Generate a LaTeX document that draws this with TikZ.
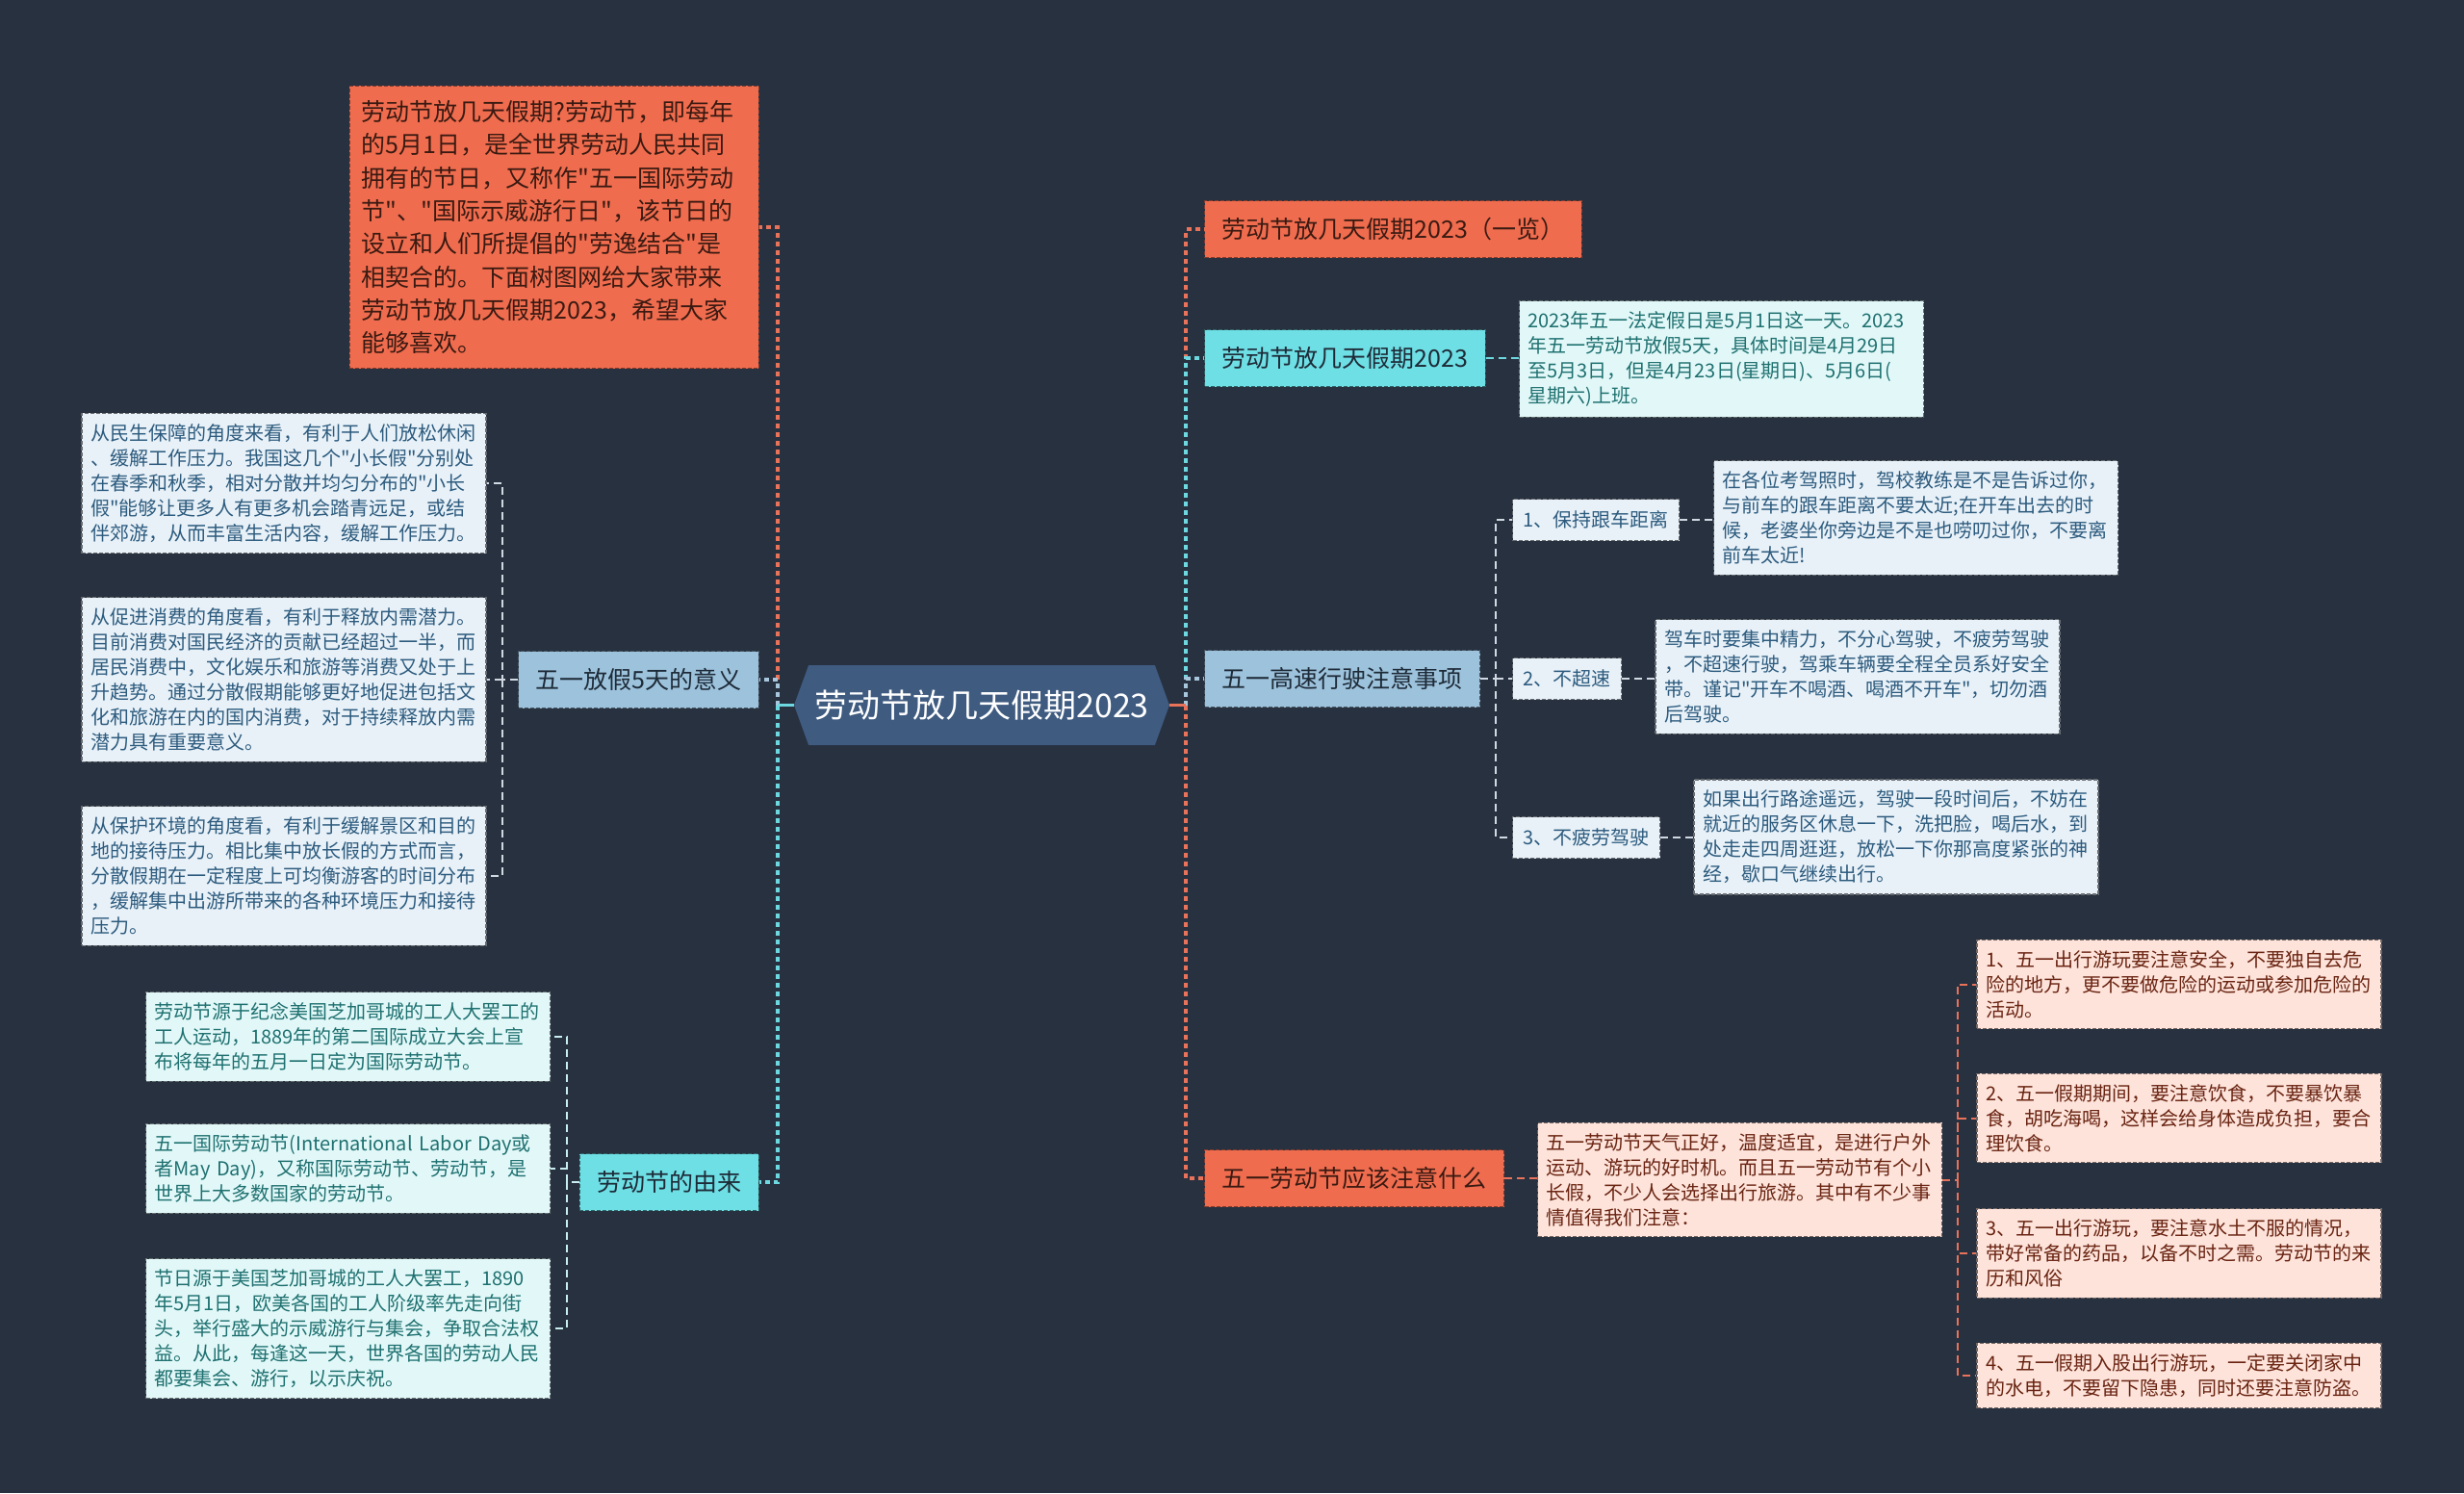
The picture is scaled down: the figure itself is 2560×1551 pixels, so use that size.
\documentclass[tikz,border=0pt]{standalone}
\usepackage{fontspec}
\setmainfont{Noto Sans CJK SC}[Ligatures=TeXOff]
\usetikzlibrary{shapes.symbols}

\definecolor{bgdark}{HTML}{283140}
\definecolor{rootblue}{HTML}{3F5B80}
\definecolor{topicorange}{HTML}{F06C4E}
\definecolor{topiccyan}{HTML}{6EDFE5}
\definecolor{topicblue}{HTML}{9DC2DC}
\definecolor{leafblue}{HTML}{E8F1F8}
\definecolor{leafcyan}{HTML}{E2F8F8}
\definecolor{leafpink}{HTML}{FDE3DA}
\definecolor{inkblue}{HTML}{2D5B7E}
\definecolor{inkteal}{HTML}{1F7070}
\definecolor{inkbrown}{HTML}{6A2412}
\definecolor{inkred}{HTML}{3A1A12}
\definecolor{inkdark}{HTML}{1E2B38}
\definecolor{lineorange}{HTML}{E8735A}
\definecolor{linecyan}{HTML}{6ED8E0}
\definecolor{lineblue}{HTML}{A8C6DC}
\definecolor{twiggray}{HTML}{D0D9E2}
\definecolor{twigcyan}{HTML}{C8EEF0}

\tikzset{
  boxbase/.style={rectangle, draw, dash pattern=on 4pt off 2pt, line width=1.2pt},
  topic/.style={boxbase, minimum height=59pt, inner xsep=18pt, inner ysep=0pt,
    font=\fontsize{25}{30}\selectfont},
  orangetopic/.style={topic, fill=topicorange, draw=topicorange!55!black, text=inkred},
  cyantopic/.style={topic, fill=topiccyan, draw=topiccyan!45!black, text=inkdark},
  bluetopic/.style={topic, fill=topicblue, draw=topicblue!45!black, text=inkdark},
  leaf/.style={boxbase, text width=402pt, inner xsep=9pt, inner ysep=11pt, align=left,
    font=\fontsize{20}{26}\selectfont},
  blueleaf/.style={leaf, fill=leafblue, draw=leafblue!45!black, text=inkblue},
  cyanleaf/.style={leaf, fill=leafcyan, draw=leafcyan!45!black, text=inkteal},
  pinkleaf/.style={leaf, fill=leafpink, draw=leafpink!45!black, text=inkbrown},
  tag/.style={boxbase, fill=leafblue, draw=leafblue!45!black, text=inkblue,
    minimum height=43pt, inner xsep=11pt, inner ysep=0pt, font=\fontsize{20}{26}\selectfont},
  trunk/.style={line width=3.5pt, dash pattern=on 5pt off 4pt},
  twig/.style={line width=2pt, dash pattern=on 8pt off 5pt},
}

\begin{document}
\begin{tikzpicture}[x=1pt, y=-1pt]
\useasboundingbox (0,0) rectangle (2560,1551);
\fill[bgdark] (0,0) rectangle (2560,1551);

% root
\node[signal, signal to=west and east, signal pointer angle=140, fill=rootblue, text=white,
  minimum width=390pt, minimum height=83pt, inner sep=0pt, font=\fontsize{34}{40}\selectfont]
  (root) at (1020,732.5) {劳动节放几天假期2023};

% left topics
\node[orangetopic, anchor=east, text width=400pt, inner xsep=12.5pt, inner ysep=15pt, align=left,
  font=\fontsize{25}{34.3}\selectfont] (intro) at (789,236)
  {劳动节放几天假期?劳动节，即每年\\的5月1日，是全世界劳动人民共同\\拥有的节日，又称作"五一国际劳动\\节"、"国际示威游行日"，该节日的\\设立和人们所提倡的"劳逸结合"是\\相契合的。下面树图网给大家带来\\劳动节放几天假期2023，希望大家\\能够喜欢。};
\node[bluetopic, anchor=east] (meaning) at (789,706) {五一放假5天的意义};
\node[cyantopic, anchor=east] (origin) at (789,1228) {劳动节的由来};

% right topics
\node[orangetopic, anchor=west] (list) at (1251,238) {劳动节放几天假期2023（一览）};
\node[cyantopic, anchor=west] (days) at (1251,372) {劳动节放几天假期2023};
\node[bluetopic, anchor=west] (drive) at (1251,705) {五一高速行驶注意事项};
\node[orangetopic, anchor=west] (care) at (1251,1224) {五一劳动节应该注意什么};

% meaning leaves
\node[blueleaf] (meanA) at (295,502)
  {从民生保障的角度来看，有利于人们放松休闲\\、缓解工作压力。我国这几个"小长假"分别处\\在春季和秋季，相对分散并均匀分布的"小长\\假"能够让更多人有更多机会踏青远足，或结\\伴郊游，从而丰富生活内容，缓解工作压力。};
\node[blueleaf] (meanB) at (295,706)
  {从促进消费的角度看，有利于释放内需潜力。\\目前消费对国民经济的贡献已经超过一半，而\\居民消费中，文化娱乐和旅游等消费又处于上\\升趋势。通过分散假期能够更好地促进包括文\\化和旅游在内的国内消费，对于持续释放内需\\潜力具有重要意义。};
\node[blueleaf] (meanC) at (295,910)
  {从保护环境的角度看，有利于缓解景区和目的\\地的接待压力。相比集中放长假的方式而言，\\分散假期在一定程度上可均衡游客的时间分布\\，缓解集中出游所带来的各种环境压力和接待\\压力。};

% origin leaves
\node[cyanleaf] (origA) at (361.5,1077)
  {劳动节源于纪念美国芝加哥城的工人大罢工的\\工人运动，1889年的第二国际成立大会上宣\\布将每年的五月一日定为国际劳动节。};
\node[cyanleaf] (origB) at (361.5,1214)
  {五一国际劳动节(International~Labor~Day或\\者May~Day)，又称国际劳动节、劳动节，是\\世界上大多数国家的劳动节。};
\node[cyanleaf] (origC) at (361.5,1380)
  {节日源于美国芝加哥城的工人大罢工，1890\\年5月1日，欧美各国的工人阶级率先走向街\\头，举行盛大的示威游行与集会，争取合法权\\益。从此，每逢这一天，世界各国的劳动人民\\都要集会、游行，以示庆祝。};

% days leaf
\node[cyanleaf] (daysA) at (1788.5,373)
  {2023年五一法定假日是5月1日这一天。2023\\年五一劳动节放假5天，具体时间是4月29日\\至5月3日，但是4月23日(星期日)、5月6日(\\星期六)上班。};

% driving tags and leaves
\node[tag, anchor=west] (tagA) at (1571,540) {1、保持跟车距离};
\node[tag, anchor=west] (tagB) at (1571,705) {2、不超速};
\node[tag, anchor=west] (tagC) at (1571,870) {3、不疲劳驾驶};
\node[blueleaf] (tipA) at (1990.5,538)
  {在各位考驾照时，驾校教练是不是告诉过你，\\与前车的跟车距离不要太近;在开车出去的时\\候，老婆坐你旁边是不是也唠叨过你，不要离\\前车太近!};
\node[blueleaf] (tipB) at (1930,703)
  {驾车时要集中精力，不分心驾驶，不疲劳驾驶\\，不超速行驶，驾乘车辆要全程全员系好安全\\带。谨记"开车不喝酒、喝酒不开车"，切勿酒\\后驾驶。};
\node[blueleaf] (tipC) at (1970,869.5)
  {如果出行路途遥远，驾驶一段时间后，不妨在\\就近的服务区休息一下，洗把脸，喝后水，到\\处走走四周逛逛，放松一下你那高度紧张的神\\经，歇口气继续出行。};

% care leaves
\node[pinkleaf] (careA) at (1807.5,1225.5)
  {五一劳动节天气正好，温度适宜，是进行户外\\运动、游玩的好时机。而且五一劳动节有个小\\长假，不少人会选择出行旅游。其中有不少事\\情值得我们注意：};
\node[pinkleaf] (noteA) at (2264,1022.5)
  {1、五一出行游玩要注意安全，不要独自去危\\险的地方，更不要做危险的运动或参加危险的\\活动。};
\node[pinkleaf] (noteB) at (2264,1161.5)
  {2、五一假期期间，要注意饮食，不要暴饮暴\\食，胡吃海喝，这样会给身体造成负担，要合\\理饮食。};
\node[pinkleaf] (noteC) at (2264,1302)
  {3、五一出行游玩，要注意水土不服的情况，\\带好常备的药品，以备不时之需。劳动节的来\\历和风俗};
\node[pinkleaf] (noteD) at (2264,1429)
  {4、五一假期入股出行游玩，一定要关闭家中\\的水电，不要留下隐患，同时还要注意防盗。};

% joints
\coordinate (lj) at (808,732.5);
\coordinate (rj) at (1232,732.5);
\coordinate (mj) at (522,706);
\coordinate (oj) at (589,1228);
\coordinate (sj) at (1554,705);
\coordinate (pj) at (2034,1225.5);

% left connectors
\draw[trunk, lineorange] (lj) |- (intro.east);
\draw[trunk, lineblue] (lj) |- (meaning.east);
\draw[trunk, linecyan] (lj) |- (origin.east);
\draw[linecyan, line width=3pt] (root.west) -- (lj);

% right connectors
\draw[trunk, lineorange] (rj) |- (list.west);
\draw[trunk, linecyan] (rj) |- (days.west);
\draw[trunk, lineblue] (rj) |- (drive.west);
\draw[trunk, lineorange] (rj) |- (care.west);
\draw[lineorange, line width=3pt] (root.east) -- (rj);

% twigs
\draw[twig, twiggray] (meaning.west) -- (mj) |- (meanA.east);
\draw[twig, twiggray] (mj) |- (meanB.east);
\draw[twig, twiggray] (mj) |- (meanC.east);

\draw[twig, twigcyan] (origin.west) -- (oj) |- (origA.east);
\draw[twig, twigcyan] (oj) |- (origB.east);
\draw[twig, twigcyan] (oj) |- (origC.east);

\draw[twig, linecyan] (days.east) -- (days.east -| daysA.west);

\draw[twig, twiggray] (drive.east) -- (sj) |- (tagA.west);
\draw[twig, twiggray] (sj) |- (tagB.west);
\draw[twig, twiggray] (sj) |- (tagC.west);
\draw[twig, twiggray] (tagA.east) -- (tagA.east -| tipA.west);
\draw[twig, twiggray] (tagB.east) -- (tagB.east -| tipB.west);
\draw[twig, twiggray] (tagC.east) -- (tagC.east -| tipC.west);

\draw[twig, lineorange] (care.east) -- (care.east -| careA.west);
\draw[twig, lineorange] (careA.east) -- (pj) |- (noteA.west);
\draw[twig, lineorange] (pj) |- (noteB.west);
\draw[twig, lineorange] (pj) |- (noteC.west);
\draw[twig, lineorange] (pj) |- (noteD.west);
\end{tikzpicture}
\end{document}
